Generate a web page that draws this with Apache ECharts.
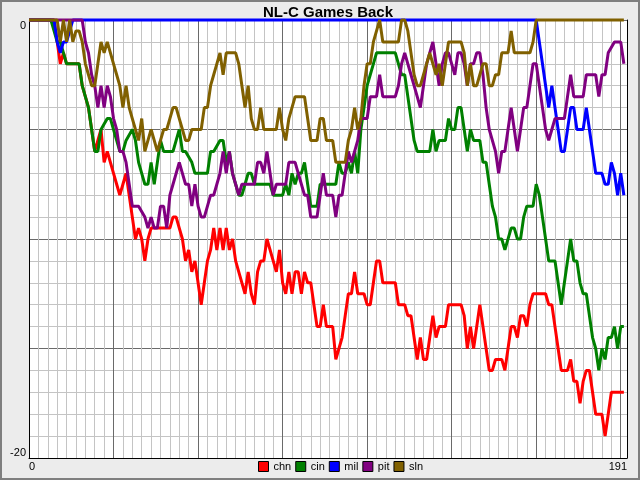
<!DOCTYPE html>
<html>
<head>
<meta charset="utf-8">
<script src="https://cdn.jsdelivr.net/npm/echarts@6.0.0/dist/echarts.min.js"></script>
<style>
    html, body { margin: 0; padding: 0; background: #ececec; }
    #frame { position: relative; width: 640px; height: 480px; box-sizing: border-box; border: 2px solid #7f7f7f; }
    #chart { position: absolute; left: -2px; top: -2px; width: 640px; height: 480px; }
</style>
</head>
<body>
<div id="frame"><div id="chart"></div></div>
<script>
    // games back after each game, [game, games back]
    var teams = ['chn', 'cin', 'mil', 'pit', 'sln'];
    var lastGame = 191;
    var xLabels = [0, 191];
    var yLabels = [0, -20];

    var chn = [[0,0],[8,0],[9,-1],[10,-2],[11,-1.5],[12,-2],[16,-2],[17,-3],[18,-3.5],[19,-4],[20,-5],[21,-6],[22,-5.5],[23,-5],[24,-6.5],[25,-6],[26,-6.5],[27,-7],[28,-7.5],[29,-8],[30,-7.5],[31,-7],[32,-8],[33,-9],[34,-10],[35,-9.5],[36,-10],[37,-11],[38,-10],[39,-9.5],[45,-9.5],[46,-9],[47,-9],[48,-9.5],[49,-10],[50,-11],[51,-10.5],[52,-11.5],[53,-11],[54,-12],[55,-13],[56,-12],[57,-11],[58,-10.5],[59,-9.5],[60,-10.5],[61,-9.5],[62,-10.5],[63,-9.5],[64,-10.5],[65,-10],[66,-11],[67,-11.5],[68,-12],[69,-12.5],[70,-11.5],[71,-12.5],[72,-13],[73,-11.5],[74,-11],[75,-11],[76,-10],[77,-10.5],[78,-11],[79,-11.5],[80,-10.5],[81,-12],[82,-12.5],[83,-11.5],[84,-12.5],[85,-11.5],[86,-11.5],[87,-12.5],[88,-11.5],[89,-12],[90,-12],[91,-13],[92,-14],[93,-14],[94,-13],[95,-14],[97,-14],[98,-15.5],[99,-15],[100,-14.5],[101,-13.5],[102,-12.5],[103,-12.5],[104,-11.5],[105,-12.5],[107,-12.5],[108,-13],[109,-13],[110,-12],[111,-11],[112,-11],[113,-12],[117,-12],[118,-13],[120,-13],[121,-13.5],[122,-13.5],[123,-14.5],[124,-15.5],[125,-14.5],[126,-15.5],[127,-15.5],[128,-14.5],[129,-13.5],[130,-14.5],[131,-14],[133,-14],[134,-13],[138,-13],[139,-13.5],[140,-15],[141,-14],[142,-15],[144,-13],[145,-14],[146,-15],[147,-16],[148,-16],[149,-15.5],[151,-15.5],[152,-16],[153,-15],[154,-14],[155,-14],[156,-14.5],[157,-13.5],[158,-13.5],[159,-14],[160,-13],[161,-12.5],[165,-12.5],[166,-13],[167,-13],[168,-14],[169,-15],[170,-16],[172,-16],[173,-15.5],[174,-16.5],[175,-16.5],[176,-17.5],[177,-16.5],[178,-16],[179,-16],[180,-17],[181,-18],[183,-18],[184,-19],[185,-18],[186,-17],[190,-17]];

    var cin = [[0,0],[7,0],[8,-0.5],[9,-1],[10,-1],[11,-1.5],[12,-2],[16,-2],[17,-3],[18,-3.5],[19,-4],[20,-5],[21,-6],[22,-6],[23,-5],[25,-4.5],[26,-4.5],[27,-5],[28,-5.5],[29,-6],[30,-6],[31,-5.5],[33,-5],[34,-5.5],[35,-6.5],[36,-7],[37,-7.5],[38,-7.5],[39,-6.5],[40,-7.5],[41,-6.5],[42,-5.5],[43,-6],[46,-6],[47,-5.5],[48,-5],[49,-6],[50,-6],[52,-6.5],[53,-7],[57,-7],[58,-6],[59,-6],[61,-5.5],[62,-5.5],[63,-6.5],[64,-6],[65,-7],[66,-7.5],[67,-8],[68,-8],[69,-7.5],[70,-7],[71,-7],[72,-7.5],[77,-7.5],[78,-8],[81,-8],[82,-7.5],[83,-8],[84,-7],[85,-7.5],[86,-7],[87,-7],[88,-6.5],[89,-7.5],[90,-8.5],[92,-8.5],[93,-7.5],[94,-7.5],[98,-7.5],[99,-6.5],[100,-7],[101,-7],[102,-6.5],[103,-7],[104,-6],[105,-7],[106,-5],[107,-4],[108,-3],[109,-2.5],[110,-2],[111,-1.5],[117,-1.5],[118,-2],[119,-2.5],[120,-2.5],[121,-3.5],[122,-4.5],[123,-5.5],[124,-6],[128,-6],[129,-5],[130,-6],[131,-5.5],[133,-5.5],[134,-4.5],[135,-5],[136,-5],[137,-4],[138,-4],[139,-5],[140,-6],[141,-5],[142,-5.5],[144,-5.5],[145,-6.5],[146,-6.5],[147,-7.5],[148,-8.5],[149,-9],[150,-10],[151,-10],[152,-10.5],[154,-9.5],[155,-9.5],[156,-10],[157,-10],[158,-9],[159,-8.5],[161,-8.5],[162,-7.5],[163,-8],[164,-9],[165,-10],[166,-11],[168,-11],[169,-12],[170,-13],[171,-12],[172,-11],[173,-10],[174,-11],[175,-11],[176,-12],[177,-12.5],[178,-12.5],[179,-13.5],[180,-14.5],[181,-15],[182,-16],[183,-15],[184,-15.5],[185,-14.5],[186,-14.5],[187,-14],[188,-15],[189,-14],[190,-14]];

    var mil = [[0,0],[8,0],[9,-1],[10,-1.5],[11,-1],[12,-1],[13,-0.5],[14,0],[162,0],[163,-1],[164,-2],[165,-3],[166,-4],[167,-3],[168,-4],[169,-5],[170,-6],[171,-6],[172,-5],[173,-4],[174,-4],[175,-5],[177,-5],[178,-4],[179,-5],[180,-6],[181,-7],[183,-7],[184,-7.5],[185,-7.5],[186,-6.5],[187,-7],[188,-8],[189,-7],[190,-8]];

    var pit = [[0,0],[17,0],[18,-1],[19,-1.5],[20,-2.5],[21,-3],[22,-4],[23,-3],[24,-4],[25,-3],[26,-3.5],[27,-4.5],[28,-5],[29,-6],[30,-6],[31,-6.5],[32,-7.5],[33,-8.5],[35,-8.5],[37,-9],[38,-9.5],[39,-9],[40,-9.5],[41,-9.5],[42,-8.5],[43,-8.5],[44,-9.5],[45,-8],[46,-7.5],[47,-7],[48,-6.5],[49,-7],[50,-7.5],[51,-7.5],[52,-8.5],[53,-7.5],[54,-8.5],[55,-9],[56,-9],[57,-8.5],[58,-8],[59,-8],[60,-7.5],[61,-7],[62,-6],[63,-7],[64,-6],[65,-7],[66,-7.5],[67,-8],[68,-7.5],[72,-7.5],[73,-6.5],[74,-6.5],[75,-7],[76,-6],[77,-7],[78,-8],[79,-7.5],[82,-7.5],[83,-6.5],[85,-6.5],[86,-7],[87,-7.5],[88,-8],[89,-8],[90,-9],[92,-9],[93,-8],[94,-7],[95,-8],[97,-8],[98,-9],[99,-8],[100,-8],[101,-7],[102,-6],[103,-6.5],[104,-6],[105,-5.5],[106,-4.5],[108,-4.5],[109,-3.5],[111,-3.5],[112,-2.5],[113,-3.5],[117,-3.5],[118,-3],[119,-2],[120,-1.5],[121,-2],[122,-2.5],[123,-3],[124,-3.5],[125,-4],[126,-3],[127,-2],[128,-1.5],[129,-1],[130,-2],[131,-3],[132,-2],[133,-1.5],[134,-1.5],[135,-2],[136,-2.5],[137,-1.5],[138,-1.5],[139,-2],[140,-3],[141,-2],[142,-2],[143,-1.5],[144,-1.5],[145,-2.5],[146,-4],[147,-5],[148,-5.5],[149,-6],[150,-7],[151,-6],[152,-6],[153,-5],[154,-4],[155,-5],[156,-6],[157,-5],[158,-4],[159,-4],[160,-3],[161,-2],[162,-2],[163,-3],[164,-4],[165,-5],[166,-5.5],[167,-5],[168,-4.5],[171,-4.5],[172,-3.5],[173,-2.5],[174,-3.5],[177,-3.5],[178,-2.5],[181,-2.5],[182,-3.5],[183,-2.5],[184,-2.5],[185,-1.5],[187,-1],[189,-1],[190,-2]];

    var sln = [[0,0],[9,0],[10,-1],[11,0],[12,-1],[13,0],[14,-1],[15,-0.5],[16,-0.5],[17,-1],[18,-2],[19,-2.5],[20,-3],[21,-3],[22,-2],[23,-1],[24,-1.5],[25,-1],[26,-1.5],[27,-2],[28,-2.5],[29,-3],[30,-4],[31,-3],[32,-4],[33,-4.5],[34,-5],[35,-5.5],[36,-4.5],[37,-6],[38,-5.5],[39,-5],[40,-5.5],[41,-6],[42,-5.5],[43,-5],[44,-5],[45,-4.5],[46,-4],[47,-4],[48,-4.5],[49,-5],[50,-5.5],[51,-5.5],[52,-5],[55,-5],[56,-4],[57,-4],[58,-3],[59,-2.5],[60,-2],[61,-1.5],[62,-2.5],[63,-1.5],[66,-1.5],[67,-2],[68,-3],[69,-4],[70,-3],[71,-4.5],[72,-5],[73,-5],[74,-4],[75,-5],[79,-5],[80,-4],[81,-5],[82,-5.5],[83,-4.5],[84,-4],[85,-3.5],[88,-3.5],[89,-4.5],[90,-5.5],[92,-5.5],[93,-4.5],[94,-4.5],[95,-5.5],[97,-5.5],[98,-6.5],[101,-6.5],[102,-5.5],[103,-5],[104,-4],[105,-5],[106,-4.5],[107,-3],[108,-2],[109,-2],[110,-1],[111,-0.5],[112,0],[113,-1],[118,-1],[119,0],[120,0],[121,-0.5],[122,-1.5],[123,-2.5],[124,-3],[125,-3],[126,-2.5],[127,-2],[128,-1.5],[129,-2],[130,-2.5],[131,-2],[132,-3],[133,-2],[134,-1],[138,-1],[139,-1.5],[140,-3],[141,-2],[142,-3],[143,-3],[144,-2.5],[145,-2],[146,-2],[147,-3],[148,-3],[149,-2.5],[150,-2.5],[151,-1.5],[153,-1.5],[154,-0.5],[155,-1.5],[160,-1.5],[161,-1],[162,0],[190,0]];

    var teamData = [chn, cin, mil, pit, sln];
    var teamColors = ['#ff0000', '#008000', '#0000ff', '#800080', '#806000'];

    var font = 'Liberation Sans';
    var major = '#6a6a6a', minor = '#c4c4c4';
    // one dark line every 27 games (9 x 3), every 5 games back (5 x 1)
    var xLineColors = [major, minor, minor, minor, minor, minor, minor, minor, minor];
    var yLineColors = [major, minor, minor, minor, minor];

    var myChart = echarts.init(document.getElementById('chart'));

    var series = teams.map(function (name, i) {
        return {
            name: name,
            type: 'line',
            data: teamData[i],
            symbol: 'none',
            clip: false,
            color: teamColors[i],
            lineStyle: {width: 3, color: teamColors[i]},
            itemStyle: {color: teamColors[i]},
            emphasis: {disabled: true},
            z: 3 + i
        };
    });

    var borderAxis = {show: true, onZero: false, lineStyle: {color: '#000', width: 1}};

    var option = {
        animation: false,
        backgroundColor: 'transparent',
        title: {
            text: 'NL-C Games Back',
            left: 263,
            top: 5,
            padding: 0,
            textStyle: {fontFamily: font, fontWeight: 'bold', fontSize: 15, color: '#000'}
        },
        legend: {
            data: teams,
            left: 258,
            top: 461,
            icon: 'rect',
            itemWidth: 10,
            itemHeight: 10,
            itemGap: 4,
            padding: 0,
            itemStyle: {borderColor: '#000', borderWidth: 1},
            textStyle: {fontFamily: font, fontSize: 11, color: '#000', width: 20}
        },
        grid: {
            left: 29, right: 13, top: 20, bottom: 22,
            outerBoundsMode: 'none',
            show: true,
            backgroundColor: '#fff',
            borderWidth: 0
        },
        xAxis: [{
            type: 'value', min: 0, max: lastGame, interval: 3, position: 'bottom',
            axisLine: {show: false},
            axisTick: {show: false},
            axisLabel: {
                fontFamily: font, fontSize: 11, color: '#000', margin: 3,
                alignMinLabel: 'left', alignMaxLabel: 'right',
                formatter: function (v) { return xLabels.indexOf(v) >= 0 ? String(v) : ''; }
            },
            splitLine: {show: true, lineStyle: {color: xLineColors, width: 1}}
        }, {
            type: 'value', min: 0, max: lastGame, position: 'bottom', z: 1,
            axisLine: borderAxis, axisTick: {show: false}, axisLabel: {show: false}, splitLine: {show: false}
        }],
        yAxis: [{
            type: 'value', min: -20, max: 0, interval: 1, position: 'left',
            axisLine: {show: false},
            axisTick: {show: false},
            axisLabel: {
                fontFamily: font, fontSize: 11, color: '#000', margin: 3,
                verticalAlignMinLabel: 'bottom', verticalAlignMaxLabel: 'top',
                formatter: function (v) { return yLabels.indexOf(v) >= 0 ? String(v) : ''; }
            },
            splitLine: {show: true, lineStyle: {color: yLineColors, width: 1}}
        }, {
            type: 'value', min: -20, max: 0, position: 'left', z: 1,
            axisLine: borderAxis, axisTick: {show: false}, axisLabel: {show: false}, splitLine: {show: false}
        }, {
            type: 'value', min: -20, max: 0, position: 'right', z: 1,
            axisLine: borderAxis, axisTick: {show: false}, axisLabel: {show: false}, splitLine: {show: false}
        }],
        series: series
    };

    myChart.setOption(option);
</script>
</body>
</html>
